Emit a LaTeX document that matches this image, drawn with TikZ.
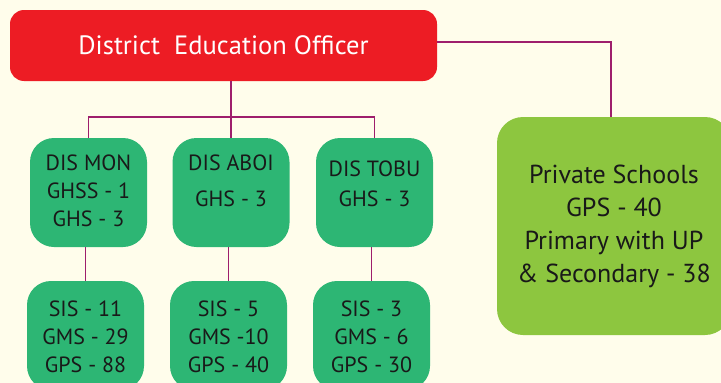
\documentclass[tikz,border=0pt]{standalone}
\usepackage{fontspec}
\setmainfont{PT Sans}
\definecolor{deored}{RGB}{237,28,36}
\definecolor{disgreen}{RGB}{45,182,116}
\definecolor{pvtgreen}{RGB}{141,198,63}
\definecolor{linkpurple}{RGB}{158,30,108}
\definecolor{paper}{RGB}{255,253,235}
\begin{document}
\begin{tikzpicture}[x=1pt,y=-1pt,
  box/.style={fill=disgreen, rounded corners=24pt, minimum width=117pt, minimum height=109pt, inner sep=0pt},
  txt/.style={align=center, font=\fontsize{22}{28}\selectfont, text=black!90},
  link/.style={draw=linkpurple, line width=1.3pt}]
% page
\fill[paper] (0,0) rectangle (721,383);
\clip (0,0) rectangle (721,383);
% top office and private schools
\node[fill=deored, rounded corners=14pt, minimum width=427pt, minimum height=71pt, text=white,
  font=\fontsize{26.5}{30}\selectfont] (deo) at (223.5,45.5) {District\ \ Education Officer};
\node[fill=pvtgreen, rounded corners=26pt, minimum width=234pt, minimum height=218pt, align=center,
  font=\fontsize{26}{33}\selectfont, text=black!90] (pvt) at (614,226)
  {Private Schools\\GPS - 40\\Primary with UP\\\& Secondary - 38};
% district boxes
\node[box] (mon) at (88.5,192.5) {};
\node[box] (aboi) at (231,192.5) {};
\node[box] (tobu) at (374.5,192.5) {};
\node[box] (mon-s) at (85.5,335.5) {};
\node[box] (aboi-s) at (228.5,335.5) {};
\node[box] (tobu-s) at (371.5,335.5) {};
\node[txt] (mon-t) at (88.5,191) {DIS MON\\GHSS - 1\\GHS - 3};
\node[txt] (aboi-t) at (231,181) {DIS ABOI\\[8pt]GHS - 3};
\node[txt] (tobu-t) at (374.5,184) {DIS TOBU\\[2pt]GHS - 3};
\node[txt] (mon-st) at (85.5,337) {SIS - 11\\GMS - 29\\GPS - 88};
\node[txt] (aboi-st) at (228.5,337) {SIS - 5\\GMS -10\\GPS - 40};
\node[txt] (tobu-st) at (371.5,337) {SIS - 3\\GMS - 6\\GPS - 30};
% connectors
\coordinate (bus) at (231,117);
\coordinate (corner) at (611,42);
\draw[link] (deo.south -| aboi.north) -- (aboi.north);
\draw[link] (mon.north) |- (bus) -| (tobu.north);
\draw[link] (mon-s.north |- mon.south) -- (mon-s.north);
\draw[link] (aboi-s.north |- aboi.south) -- (aboi-s.north);
\draw[link] (tobu-s.north |- tobu.south) -- (tobu-s.north);
\draw[link] (deo.east |- corner) -- (corner) -- (corner |- pvt.north);
\end{tikzpicture}
\end{document}
